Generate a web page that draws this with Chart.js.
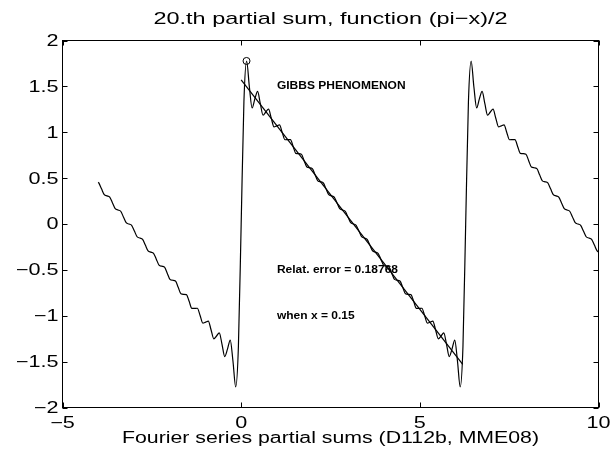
<!DOCTYPE html>
<html>
<head>
<meta charset="utf-8">
<script src="https://cdn.jsdelivr.net/npm/chart.js@4.4.0/dist/chart.umd.min.js"></script>
<style>
  html, body { margin: 0; padding: 0; background: #fff; }
</style>
</head>
<body>
<canvas id="chart" width="612" height="455"></canvas>
<script>
// tick values
const xTicks = [-5, 0, 5, 10];
const yTicks = [-2, -1.5, -1, -0.5, 0, 0.5, 1, 1.5, 2];

// 20th partial sum (x from -4 to 10)
const sumX = [
  -4,
  -3.984, -3.908, -3.831, -3.755, -3.678, -3.601, -3.525, -3.448, -3.371, -3.295,
  -3.218, -3.142, -3.065, -2.988, -2.912, -2.835, -2.758, -2.682, -2.605, -2.529,
  -2.452, -2.375, -2.299, -2.222, -2.145, -2.069, -1.992, -1.916, -1.839, -1.762,
  -1.686, -1.609, -1.532, -1.456, -1.379, -1.303, -1.226, -1.149, -1.073, -0.996,
  -0.919, -0.843, -0.766, -0.690, -0.613, -0.536, -0.460, -0.383, -0.306, -0.230,
  -0.153, -0.077,
  0, 0.077, 0.153, 0.230, 0.306, 0.383, 0.460, 0.536, 0.613, 0.690,
  0.766, 0.843, 0.919, 0.996, 1.073, 1.149, 1.226, 1.303, 1.379, 1.456,
  1.532, 1.609, 1.686, 1.762, 1.839, 1.916, 1.992, 2.069, 2.145, 2.222,
  2.299, 2.375, 2.452, 2.529, 2.605, 2.682, 2.758, 2.835, 2.912, 2.988,
  3.065, 3.142, 3.218, 3.295, 3.371, 3.448, 3.525, 3.601, 3.678, 3.755,
  3.831, 3.908, 3.984, 4.061, 4.138, 4.214, 4.291, 4.368, 4.444, 4.521,
  4.597, 4.674, 4.751, 4.827, 4.904, 4.981, 5.057, 5.134, 5.210, 5.287,
  5.364, 5.440, 5.517, 5.594, 5.670, 5.747, 5.823, 5.900, 5.977, 6.053,
  6.130, 6.207,
  6.283, 6.360, 6.436, 6.513, 6.590, 6.666, 6.743, 6.820, 6.896, 6.973,
  7.049, 7.126, 7.203, 7.279, 7.356, 7.433, 7.509, 7.586, 7.662, 7.739,
  7.816, 7.892, 7.969, 8.046, 8.122, 8.199, 8.275, 8.352, 8.429, 8.505,
  8.582, 8.659, 8.735, 8.812, 8.888, 8.965, 9.042, 9.118, 9.195, 9.272,
  9.348, 9.425, 9.501, 9.578, 9.655, 9.731, 9.808, 9.885, 9.961,
  10
];
const sumY = [
  0.455,
  0.448, 0.383, 0.319, 0.306, 0.293, 0.230, 0.167, 0.153, 0.139, 0.077,
  0.014, 0, -0.014, -0.077, -0.139, -0.153, -0.167, -0.230, -0.293, -0.306,
  -0.319, -0.383, -0.448, -0.460, -0.470, -0.536, -0.604, -0.613, -0.621, -0.690,
  -0.761, -0.766, -0.769, -0.843, -0.920, -0.919, -0.918, -0.998, -1.080, -1.070,
  -1.058, -1.153, -1.251, -1.221, -1.186, -1.311, -1.445, -1.364, -1.265, -1.493,
  -1.775, -1.332,
  0, 1.332, 1.775, 1.493, 1.265, 1.364, 1.445, 1.311, 1.186, 1.221,
  1.251, 1.153, 1.058, 1.070, 1.080, 0.998, 0.918, 0.919, 0.920, 0.843,
  0.769, 0.766, 0.761, 0.690, 0.621, 0.613, 0.604, 0.536, 0.470, 0.460,
  0.448, 0.383, 0.319, 0.306, 0.293, 0.230, 0.167, 0.153, 0.139, 0.077,
  0.014, 0, -0.014, -0.077, -0.139, -0.153, -0.167, -0.230, -0.293, -0.306,
  -0.319, -0.383, -0.448, -0.460, -0.470, -0.536, -0.604, -0.613, -0.621, -0.690,
  -0.761, -0.766, -0.769, -0.843, -0.920, -0.919, -0.918, -0.998, -1.080, -1.070,
  -1.058, -1.153, -1.251, -1.221, -1.186, -1.311, -1.445, -1.364, -1.265, -1.493,
  -1.775, -1.332,
  0, 1.332, 1.775, 1.493, 1.265, 1.364, 1.445, 1.311, 1.186, 1.221,
  1.251, 1.153, 1.058, 1.070, 1.080, 0.998, 0.918, 0.919, 0.920, 0.843,
  0.769, 0.766, 0.761, 0.690, 0.621, 0.613, 0.604, 0.536, 0.470, 0.460,
  0.448, 0.383, 0.319, 0.306, 0.293, 0.230, 0.167, 0.153, 0.139, 0.077,
  0.014, 0, -0.014, -0.077, -0.139, -0.153, -0.167, -0.230, -0.293,
  -0.305
];

// the function itself, (pi-x)/2 on one period
const lineX = [0, 6.2];
const lineY = [1.571, -1.529];

// marked maximum
const peakX = [0.15];
const peakY = [1.777];

const notes = ['GIBBS PHENOMENON', 'Relat. error = 0.18768', 'when x = 0.15'];

const pts = (xs, ys) => xs.map((x, i) => ({ x: x, y: ys[i] }));
const fmt = v => String(v).replace('-', '\u2212');
const FONT = '"Liberation Sans", Arial, Helvetica, sans-serif';

// the old postscript text is much wider than arial, so stretch it
function wide(ctx, txt, x, y, sx) {
    ctx.save();
    ctx.scale(sx, 1);
    ctx.fillText(txt, x / sx, y);
    ctx.restore();
}

// matlab style box, inward ticks and all the texts
const frame = {
    id: 'frame',
    afterDraw(chart) {
        const ctx = chart.ctx;
        const a = chart.chartArea;
        const x = chart.scales.x, y = chart.scales.y;
        ctx.save();
        ctx.strokeStyle = '#000';
        ctx.lineWidth = 1;
        ctx.strokeRect(a.left, a.top, a.right - a.left, a.bottom - a.top);
        ctx.beginPath();
        xTicks.forEach(v => {
            const px = Math.round(x.getPixelForValue(v)) + 0.5;
            ctx.moveTo(px, a.bottom); ctx.lineTo(px, a.bottom - 5);
            ctx.moveTo(px, a.top); ctx.lineTo(px, a.top + 5);
        });
        yTicks.forEach(v => {
            const py = Math.round(y.getPixelForValue(v)) + 0.5;
            ctx.moveTo(a.left, py); ctx.lineTo(a.left + 5, py);
            ctx.moveTo(a.right, py); ctx.lineTo(a.right - 5, py);
        });
        ctx.stroke();

        ctx.fillStyle = '#000';
        ctx.font = '16px ' + FONT;
        ctx.textAlign = 'center';
        ctx.textBaseline = 'alphabetic';
        xTicks.forEach(v => wide(ctx, fmt(v), x.getPixelForValue(v), a.bottom + 20, 1.35));
        ctx.textAlign = 'right';
        ctx.textBaseline = 'middle';
        yTicks.forEach(v => wide(ctx, fmt(v), a.left - 4, y.getPixelForValue(v) + 1, 1.35));

        const mid = (a.left + a.right) / 2;
        ctx.textAlign = 'center';
        ctx.textBaseline = 'alphabetic';
        ctx.font = '17px ' + FONT;
        wide(ctx, '20.th partial sum, function (pi\u2212x)/2', mid, 24, 1.38);
        ctx.font = '16px ' + FONT;
        wide(ctx, 'Fourier series partial sums (D112b, MME08)', mid, 443, 1.33);

        ctx.font = 'bold 10px ' + FONT;
        ctx.textAlign = 'left';
        ctx.textBaseline = 'middle';
        wide(ctx, notes[0], x.getPixelForValue(1), y.getPixelForValue(1.5), 1.2);
        wide(ctx, notes[1], x.getPixelForValue(1), y.getPixelForValue(-0.5), 1.2);
        wide(ctx, notes[2], x.getPixelForValue(1), y.getPixelForValue(-1), 1.2);
        ctx.restore();
    }
};

const ctx = document.getElementById('chart').getContext('2d');
new Chart(ctx, {
    type: 'line',
    data: {
        datasets: [{
            data: pts(sumX, sumY),
            borderColor: '#000',
            borderWidth: 1.2,
            pointRadius: 0,
            cubicInterpolationMode: 'monotone',
            fill: false
        }, {
            data: pts(lineX, lineY),
            borderColor: '#000',
            borderWidth: 1.2,
            pointRadius: 0,
            tension: 0,
            fill: false
        }, {
            data: pts(peakX, peakY),
            showLine: false,
            pointRadius: 3.5,
            pointStyle: 'circle',
            borderColor: '#000',
            borderWidth: 1,
            backgroundColor: 'rgba(0,0,0,0)'
        }]
    },
    options: {
        responsive: false,
        animation: false,
        layout: { padding: { left: 0, right: 13.5, top: 40.5, bottom: 0 } },
        plugins: {
            legend: { display: false },
            tooltip: { enabled: false },
            title: { display: false }
        },
        scales: {
            x: {
                type: 'linear', min: -5, max: 10,
                ticks: { display: false },
                grid: { display: false },
                border: { display: false },
                afterFit: s => { s.height = 47.5; }
            },
            y: {
                type: 'linear', min: -2, max: 2,
                ticks: { display: false },
                grid: { display: false },
                border: { display: false },
                afterFit: s => { s.width = 62.5; }
            }
        }
    },
    plugins: [frame]
});
</script>
</body>
</html>
